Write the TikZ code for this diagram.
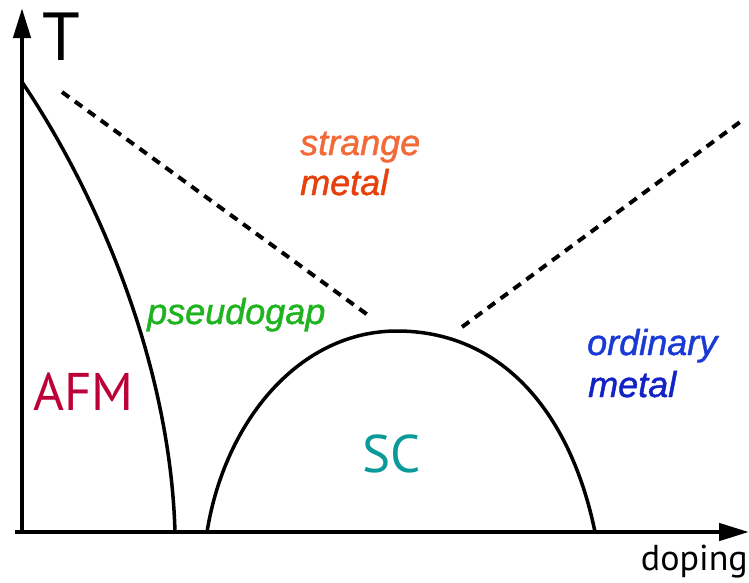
\documentclass[tikz,border=0pt]{standalone}
\usepackage{fontspec}
\setmainfont{Liberation Sans}
\newfontfamily\ptsans{PT Sans}
\newfontfamily\heavyit{Liberation Sans Italic}[FakeBold=1.2]
\usepackage{tikz}
\usetikzlibrary{arrows.meta}
\usepackage{xcolor}
\definecolor{strangeOrange}{HTML}{F26A38}
\definecolor{strangeRed}{HTML}{E6400C}
\definecolor{pgGreen}{HTML}{1FB41F}
\definecolor{afmCrimson}{HTML}{BC0038}
\definecolor{scTeal}{HTML}{0A9A9A}
\definecolor{ordBlue}{HTML}{1A3AD6}
\definecolor{ordNavy}{HTML}{1222C4}

\begin{document}
\begin{tikzpicture}[
  x=1pt, y=-1pt,
  >={Triangle[length=30pt,width=17pt]},
  axisline/.style={line width=4.5pt, ->},
  phaseline/.style={line width=3.5pt, line join=round},
  crossover/.style={line width=4pt, dash pattern=on 9pt off 7pt},
  phaselabel/.style={inner sep=0pt, anchor=base west, font=\heavyit\fontsize{36}{40}\selectfont},
  biglabel/.style={inner sep=0pt, anchor=base west, font=\ptsans\fontsize{53}{60}\selectfont}
]
  \useasboundingbox (0,0) rectangle (749,582);

  % Axes
  \coordinate (origin) at (22,532);
  \coordinate (ttop) at (22,8);
  \coordinate (xend) at (749,532);
  \draw[axisline] (15,532) -- (xend);
  \draw[axisline] (origin) -- (ttop);
  \node[inner sep=0pt, anchor=base west, font=\ptsans\fontsize{68}{70}\selectfont] (tlabel) at (42,60) {T};
  \node[inner sep=0pt, anchor=base east, font=\ptsans\fontsize{36}{40}\selectfont] (dlabel) at (748,570) {doping};

  % AFM boundary
  \coordinate (afmtop) at (22,82);
  \coordinate (afmfoot) at (175,532);
  \draw[phaseline] (afmtop) .. controls (95,190) and (170,360) .. (afmfoot);

  % SC dome
  \coordinate (scleft) at (207,532);
  \coordinate (scpeak) at (397,331);
  \coordinate (scright) at (595,532);
  \draw[phaseline] (scleft) .. controls (225,420) and (300,331) .. (scpeak)
    .. controls (500,331) and (570,410) .. (scright);

  % Crossover lines
  \coordinate (pgstart) at (62,92);
  \coordinate (pgend) at (372,318);
  \coordinate (omstart) at (462,327);
  \coordinate (omend) at (740,122);
  \draw[crossover] (pgstart) -- (pgend);
  \draw[crossover] (omstart) -- (omend);

  % Region labels
  \node[phaselabel, text=strangeOrange] (strange) at (300,155) {strange};
  \node[phaselabel, text=strangeRed] (smetal) at (300,195) {metal};
  \node[phaselabel, text=pgGreen] (pseudo) at (147,324) {pseudogap};
  \node[phaselabel, text=ordBlue] (ordinary) at (587,355) {ordinary};
  \node[phaselabel, text=ordNavy] (ometal) at (588,397) {metal};
  \node[biglabel, text=afmCrimson] (afm) at (33,410) {AFM};
  \node[biglabel, text=scTeal] (sc) at (362,472) {SC};

\end{tikzpicture}
\end{document}
